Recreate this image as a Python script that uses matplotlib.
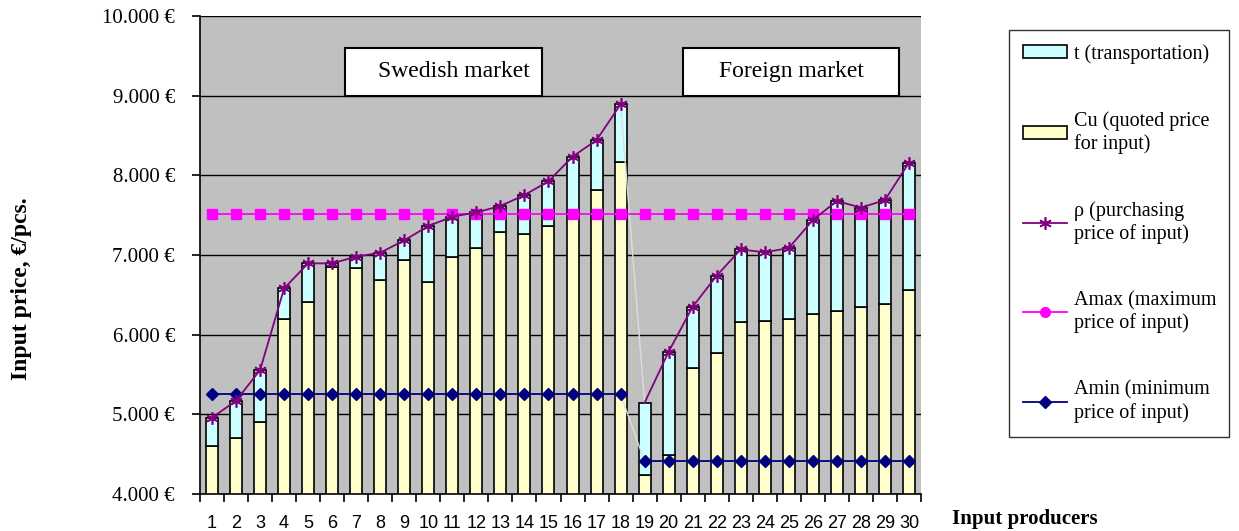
import numpy as np
import matplotlib
matplotlib.use("Agg")
import matplotlib.pyplot as plt
from matplotlib.patches import Rectangle, Patch
from matplotlib.lines import Line2D
from matplotlib.ticker import FuncFormatter

# data
producers = list(range(1, 31))
cu = [4606, 4707, 4904, 6200, 6414, 6853, 6832, 6686, 6937, 6665,
      6975, 7091, 7285, 7264, 7364, 7532, 7811, 8163,
      4238, 4490, 5578, 5774, 6155, 6176, 6197, 6255, 6297, 6351, 6389, 6561]
t = [352, 464, 652, 382, 481, 42, 147, 343, 247, 699,
     506, 444, 330, 489, 561, 702, 632, 728,
     908, 1296, 773, 967, 916, 857, 891, 1184, 1381, 1243, 1301, 1598]
amax = [7515] * 30
amin = [5250] * 18 + [4410] * 12
n_swedish = 18

markets = ["Swedish market", "Foreign market"]
legend_labels = ["t (transportation)",
                 "Cu (quoted price\nfor input)",
                 "\u03c1 (purchasing\nprice of input)",
                 "Amax (maximum\nprice of input)",
                 "Amin (minimum\nprice of input)"]

serif = "Liberation Serif"
sans = "Liberation Sans"

x = np.array(producers)
cu = np.array(cu)
t = np.array(t)
rho = cu + t
amax = np.array(amax)
amin = np.array(amin)

fig = plt.figure(figsize=(12.39, 5.31), dpi=100)
W, H = 1239, 531
ax = fig.add_axes([200 / W, 1 - 494 / H, 721 / W, 478 / H])
ax.set_facecolor("#C0C0C0")

ax.set_xlim(0.5, 30.5)
ax.set_ylim(4000, 10000)
ax.set_yticks(np.arange(4000, 10001, 1000))
ax.yaxis.grid(True, color="black", lw=1.0, zorder=0)
ax.set_axisbelow(True)

# bars
bw = 0.5
ax.bar(x, cu, width=bw, color="#FFFFCC", edgecolor="black", lw=1.2, zorder=2)
ax.bar(x, t, bottom=cu, width=bw, color="#CCFFFF", edgecolor="black", lw=1.2, zorder=2)

# connectors between the two markets in light grey
s = n_swedish
ax.plot(x[s - 1:s + 1], rho[s - 1:s + 1], color="#DDDDDD", lw=1, zorder=2.5)
ax.plot(x[s - 1:s + 1], amin[s - 1:s + 1], color="#DDDDDD", lw=1, zorder=2.5)

star = (6, 2, 0)
purple = "#800080"
ax.plot(x[:s], rho[:s], color=purple, lw=1.3, marker=star, ms=9, mew=1.2, zorder=4)
ax.plot(x[s:], rho[s:], color=purple, lw=1.3, marker=star, ms=9, mew=1.2,
        markevery=list(range(1, 30 - s)), zorder=4)
ax.plot(x, amax, color="#FF00FF", lw=1.3, marker="s", ms=7, zorder=3)
ax.plot(x[:s], amin[:s], color="#000080", lw=1.3, marker="D", ms=6, zorder=3)
ax.plot(x[s:], amin[s:], color="#000080", lw=1.3, marker="D", ms=6, zorder=3)

# market boxes
boxes = [(6.53, 14.73), (20.6, 29.59)]
for i, (name, (x0, x1)) in enumerate(zip(markets, boxes)):
    ax.add_patch(Rectangle((x0, 9000), x1 - x0, 600, facecolor="white",
                           edgecolor="black", lw=1.5, zorder=5))
    ax.text((x0 + x1) / 2 + (0.45 if i == 0 else 0.0), 9300, name, ha="center", va="center",
            family=serif, fontsize=17, zorder=6)

# axes styling
for side in ["top", "right"]:
    ax.spines[side].set_visible(False)
ax.spines["left"].set_lw(1.2)
ax.spines["bottom"].set_lw(1.2)

ax.yaxis.set_major_formatter(FuncFormatter(lambda v, p: f"{int(v):,} \u20ac".replace(",", ".")))
ax.tick_params(axis="y", direction="out", length=6, width=1.2, pad=12)
for lab in ax.get_yticklabels():
    lab.set_family(serif)
    lab.set_fontsize(15)

ax.set_xticks(np.arange(0.5, 31, 1))
ax.set_xticklabels([])
ax.set_xticks(x, minor=True)
ax.set_xticklabels([str(p) for p in producers], minor=True, family=sans, fontsize=13)
ax.tick_params(axis="x", which="major", direction="out", length=6, width=1.2)
ax.tick_params(axis="x", which="minor", length=0, pad=15)

fig.text(1025 / W, 1 - 519 / H, "Input producers", ha="center", va="center",
         family=serif, fontsize=15, weight="bold")
fig.text(22 / W, 1 - 289 / H, "Input price, \u20ac/pcs.", ha="center", va="center",
         rotation=90, family=serif, fontsize=17, weight="bold")

# legend
handles = [Patch(facecolor="#CCFFFF", edgecolor="black", lw=1.2),
           Patch(facecolor="#FFFFCC", edgecolor="black", lw=1.2),
           Line2D([], [], color=purple, lw=1.3, marker=star, ms=9, mew=1.2),
           Line2D([], [], color="#FF00FF", lw=1.3, marker="o", ms=7),
           Line2D([], [], color="#000080", lw=1.3, marker="D", ms=6)]
leg = fig.legend(handles, legend_labels, loc="upper left",
                 bbox_to_anchor=(1009 / W, 1 - 30 / H - 0.01, 220 / W, 0.01), mode="expand",
                 prop={"family": serif, "size": 14.5}, frameon=True, fancybox=False,
                 edgecolor="black", borderaxespad=0, borderpad=0.7, labelspacing=2.35,
                 handlelength=2.2, handleheight=0.6, handletextpad=0.35)
leg.get_frame().set_lw(1.0)

fig.savefig("out.png", dpi=100)
